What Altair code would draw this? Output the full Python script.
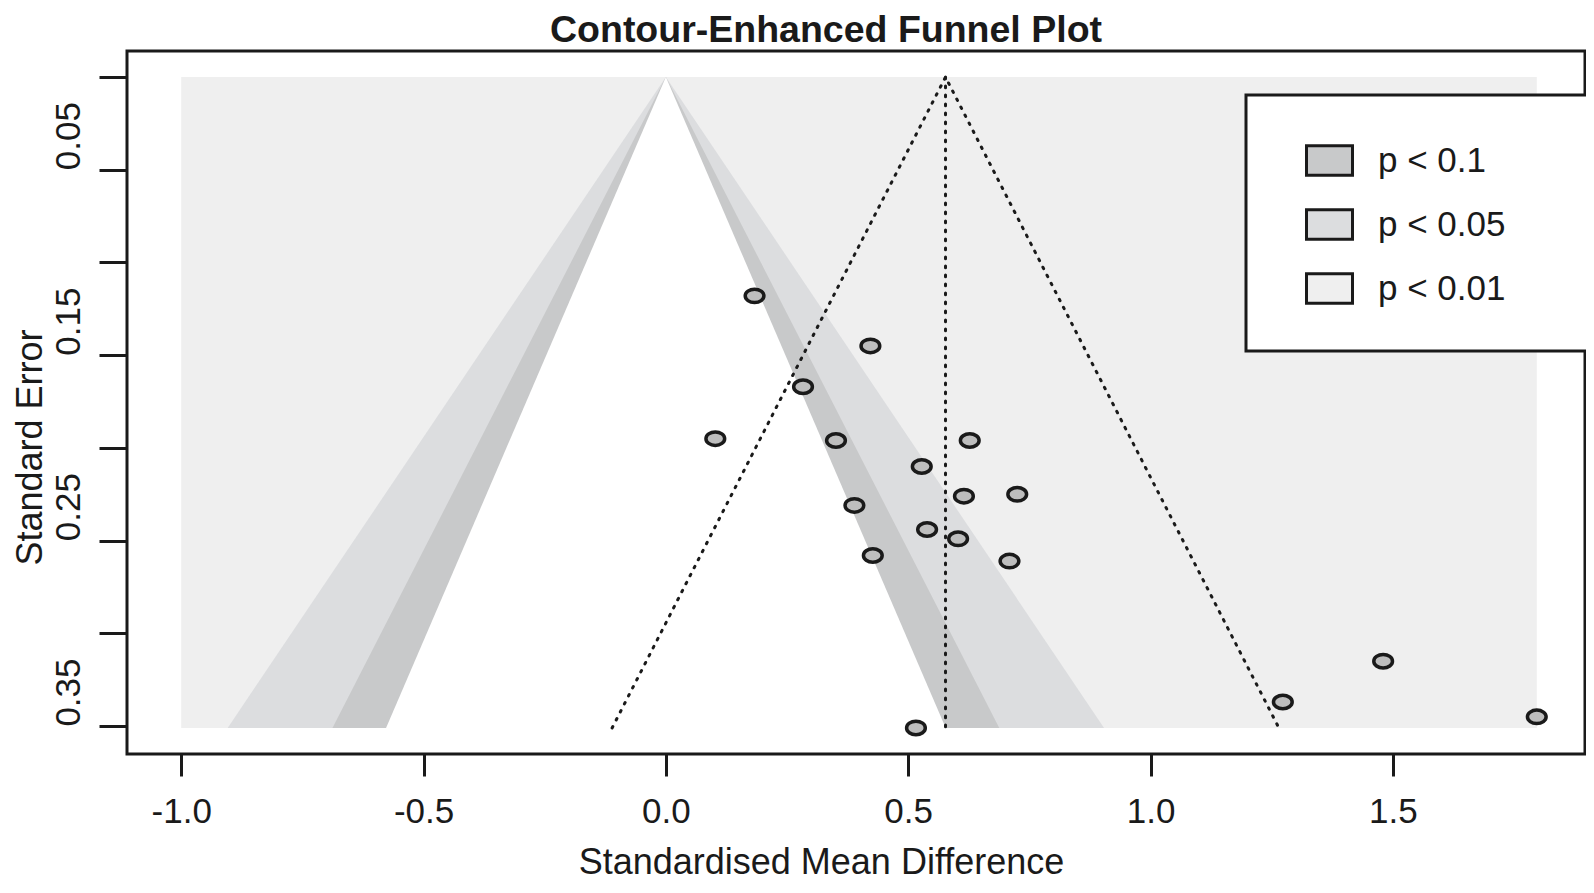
import altair as alt
import pandas as pd

# ---------------- data ----------------
study_smd = [0.183, 0.422, 0.283, 0.102, 0.351, 0.627, 0.528, 0.615, 0.725,
             0.389, 0.539, 0.603, 0.427, 0.709, 1.480, 1.273, 1.797, 0.516]
study_se = [0.118, 0.145, 0.167, 0.195, 0.196, 0.196, 0.210, 0.226, 0.225,
            0.231, 0.244, 0.249, 0.258, 0.261, 0.315, 0.337, 0.345, 0.351]

pooled_smd = 0.577
funnel_z = 1.96

contour_labels = ["p < 0.1", "p < 0.05", "p < 0.01"]
contour_z = [1.645, 1.960, 2.576]          # z for p = 0.10, 0.05, 0.01
contour_fill = ["#c8c9ca", "#dcdddf", "#efefef"]
shade_x = [-1.0, 1.797]

x_ticks = [-1.0, -0.5, 0.0, 0.5, 1.0, 1.5]
y_ticks = [0.0, 0.05, 0.10, 0.15, 0.20, 0.25, 0.30, 0.35]
y_tick_labels = ["0.05", "0.15", "0.25", "0.35"]

title_text = "Contour-Enhanced Funnel Plot"
x_title = "Standardised Mean Difference"
y_title = "Standard Error"

FONT = "Liberation Sans"
INK = "#1a1a1a"

# ---------------- layout ----------------
VIEW_W, VIEW_H = 1458, 703
FULL_W = 1464  # width the R plot region would have had

# ---------------- derived tables ----------------
se_max = max(study_se)
x_pad = 0.04 * (shade_x[1] - shade_x[0])
x_lo = shade_x[0] - x_pad
x_hi_full = shade_x[1] + x_pad
x_domain = [x_lo, x_lo + (x_hi_full - x_lo) * VIEW_W / FULL_W]
y_pad = 0.04 * se_max
y_domain = [-y_pad, se_max + y_pad]

points = pd.DataFrame({"smd": study_smd, "se": study_se})

light = pd.DataFrame({"level": [contour_labels[2]] * 2, "se": [0.0, se_max],
                      "lo": [shade_x[0]] * 2, "hi": [shade_x[1]] * 2})
mid = pd.DataFrame({"level": [contour_labels[1]] * 2, "se": [0.0, se_max],
                    "lo": [0.0, -contour_z[2] * se_max], "hi": [0.0, contour_z[2] * se_max]})
dark = pd.DataFrame({"level": [contour_labels[0]] * 2, "se": [0.0, se_max],
                     "lo": [0.0, -contour_z[1] * se_max], "hi": [0.0, contour_z[1] * se_max]})
white = pd.DataFrame({"se": [0.0, se_max],
                      "lo": [0.0, -contour_z[0] * se_max], "hi": [0.0, contour_z[0] * se_max]})

funnel = pd.DataFrame({
    "smd": [pooled_smd - funnel_z * se_max, pooled_smd, pooled_smd + funnel_z * se_max],
    "se": [se_max, 0.0, se_max],
    "k": [0, 1, 2],
})
centre = pd.DataFrame({"smd": [pooled_smd], "se": [0.0], "se2": [se_max]})
title_df = pd.DataFrame({"t": [title_text]})

# ---------------- scales / encodings ----------------
xs = alt.Scale(domain=x_domain, nice=False, zero=False)
ys = alt.Scale(domain=y_domain, nice=False, zero=False, reverse=True)

x_axis = alt.Axis(
    values=x_ticks, domain=False, grid=False,
    labelExpr="datum.value < 0 ? '-' + format(-datum.value, '.1f') : format(datum.value, '.1f')",
    tickSize=22, tickWidth=3, tickColor=INK,
    labelFont=FONT, labelFontSize=35, labelColor=INK,
    labelBaseline="alphabetic", labelPadding=46,
    labelOverlap=False, labelFlush=False, labelBound=False,
    title=x_title, titleFont=FONT, titleFontSize=36,
    titleFontWeight="normal", titleColor=INK, titleAlign="center",
    titleBaseline="alphabetic", titleX=694, titleY=119,
)

label_list = ",".join("'" + s + "'" for s in y_tick_labels)
y_axis = alt.Axis(
    values=y_ticks, domain=False, grid=False,
    tickSize=28, tickWidth=3, tickColor=INK,
    labelExpr="indexof([" + label_list + "], format(datum.value, '.2f')) >= 0 ? format(datum.value, '.2f') : ''",
    labelFont=FONT, labelFontSize=35, labelColor=INK,
    labelAngle=270, labelAlign="left", labelBaseline="alphabetic", labelPadding=20,
    labelOverlap=False, labelFlush=False, labelBound=False,
    title=y_title, titleFont=FONT, titleFontSize=36,
    titleFontWeight="normal", titleColor=INK, titleAngle=270, titleAlign="center",
    titleBaseline="alphabetic", titleX=-86, titleY=396,
)

blank = "\u2800" * 3   # non-trimmed blank glyphs: widen the legend box past the edge
legend = alt.Legend(
    title=None, orient="none", legendX=1119, legendY=44,
    padding=41, symbolOffset=18,
    symbolType="M-1,-0.64H1V0.64H-1Z", symbolSize=2116,
    symbolStrokeColor=INK, symbolStrokeWidth=3, symbolOpacity=1,
    labelFont=FONT, labelFontSize=35, labelColor=INK, labelOffset=24,
    labelLimit=3000, labelExpr="datum.label + '" + blank + "'",
    rowPadding=18, strokeColor=INK, fillColor="white",
)

color = alt.Color("level:N", scale=alt.Scale(domain=contour_labels, range=contour_fill),
                  legend=legend)


def band(df):
    return alt.Chart(df).mark_area(orient="horizontal", opacity=1).encode(
        y=alt.Y("se:Q", scale=ys, axis=y_axis),
        x=alt.X("lo:Q", scale=xs, axis=x_axis),
        x2="hi:Q",
        color=color,
    )


white_layer = alt.Chart(white).mark_area(orient="horizontal", opacity=1, color="white").encode(
    y=alt.Y("se:Q", scale=ys, axis=y_axis),
    x=alt.X("lo:Q", scale=xs, axis=x_axis),
    x2="hi:Q",
)

dots = dict(color=INK, strokeWidth=3, strokeDash=[1.6, 7.4], strokeCap="round")

funnel_layer = alt.Chart(funnel).mark_line(**dots).encode(
    x=alt.X("smd:Q", scale=xs, axis=x_axis),
    y=alt.Y("se:Q", scale=ys, axis=y_axis),
    order="k:Q",
)

centre_layer = alt.Chart(centre).mark_rule(**dots).encode(
    x=alt.X("smd:Q", scale=xs, axis=x_axis),
    y=alt.Y("se:Q", scale=ys, axis=y_axis),
    y2="se2:Q",
)

ellipse = "M-1,0A1,0.72,0,1,1,1,0A1,0.72,0,1,1,-1,0Z"
point_layer = alt.Chart(points).mark_point(
    shape=ellipse, size=350, filled=True, fill="#bebebe", stroke=INK,
    strokeWidth=3.5, opacity=1
).encode(
    x=alt.X("smd:Q", scale=xs, axis=x_axis),
    y=alt.Y("se:Q", scale=ys, axis=y_axis),
)

title_layer = alt.Chart(title_df).mark_text(
    font=FONT, fontSize=37.5, fontWeight="bold", color=INK,
    align="center", baseline="alphabetic",
).encode(text="t:N", x=alt.value(699), y=alt.value(-9))

chart = alt.layer(
    band(light), band(mid), band(dark), white_layer,
    funnel_layer, centre_layer, point_layer, title_layer,
).properties(
    width=VIEW_W, height=VIEW_H,
    autosize=alt.AutoSizeParams(type="none"),
    padding={"left": 119, "top": 43, "right": 1, "bottom": 127},
    background="white",
).configure_view(
    stroke=INK, strokeWidth=3
).configure_legend(
    strokeWidth=3
)

chart.save("out.html", embed_options={"renderer": "svg", "actions": False})
